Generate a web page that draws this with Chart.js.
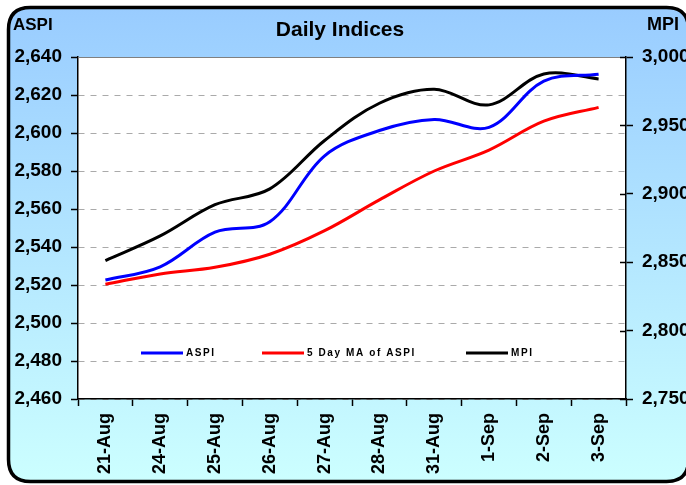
<!DOCTYPE html>
<html>
<head>
<meta charset="utf-8">
<script src="https://cdn.jsdelivr.net/npm/chart.js@4.4.1/dist/chart.umd.min.js"></script>
<style>
  html, body { margin: 0; padding: 0; background: #fff; }
  #wrap { width: 686px; height: 485px; }
</style>
</head>
<body>
<div id="wrap"><canvas id="c" width="686" height="485"></canvas></div>
<script>
// Daily Indices — ASPI / 5 day MA on the left axis, MPI on the right axis
const dates  = ['21-Aug', '24-Aug', '25-Aug', '26-Aug', '27-Aug', '28-Aug', '31-Aug', '1-Sep', '2-Sep', '3-Sep'];
const aspi   = [2522.6, 2529.6, 2547.8, 2553.3, 2588.0, 2601.3, 2607.1, 2603.0, 2627.3, 2630.9];
const aspiMa = [2520.4, 2525.8, 2529.3, 2536.2, 2548.6, 2564.8, 2580.0, 2591.0, 2606.2, 2613.5];
const mpi    = [2851.2, 2869.2, 2892.0, 2903.6, 2939.0, 2966.2, 2976.4, 2965.0, 2987.6, 2984.0];

const FONT = "'Liberation Sans', Arial, sans-serif";

function roundRect(ctx, x, y, w, h, r) {
    ctx.beginPath();
    ctx.moveTo(x + r, y);
    ctx.lineTo(x + w - r, y);
    ctx.quadraticCurveTo(x + w, y, x + w, y + r);
    ctx.lineTo(x + w, y + h - r);
    ctx.quadraticCurveTo(x + w, y + h, x + w - r, y + h);
    ctx.lineTo(x + r, y + h);
    ctx.quadraticCurveTo(x, y + h, x, y + h - r);
    ctx.lineTo(x, y + r);
    ctx.quadraticCurveTo(x, y, x + r, y);
    ctx.closePath();
}

// Panel background, rounded border and white plot area
const panel = {
    id: 'panel',
    beforeDraw(chart) {
        const { ctx, chartArea: a } = chart;
        ctx.save();
        ctx.fillStyle = '#fff';
        ctx.fillRect(0, 0, chart.width, chart.height);
        const g = ctx.createLinearGradient(0, 8, 0, 482);
        g.addColorStop(0, '#99ccff');
        g.addColorStop(1, '#ccffff');
        roundRect(ctx, 8.5, 7.5, 680, 474, 22);
        ctx.fillStyle = g;
        ctx.fill();
        ctx.lineWidth = 3.5;
        ctx.strokeStyle = '#000';
        ctx.stroke();
        ctx.fillStyle = '#fff';
        ctx.fillRect(a.left, a.top, a.right - a.left, a.bottom - a.top);
        ctx.restore();
    },
    beforeDatasetsDraw(chart) {
        const { ctx, chartArea: a } = chart;
        ctx.save();
        ctx.strokeStyle = '#808080';
        ctx.lineWidth = 1;
        ctx.beginPath();
        ctx.moveTo(a.left, a.top + 0.5);
        ctx.lineTo(a.right, a.top + 0.5);
        ctx.stroke();
        ctx.restore();
    }
};

// Titles, in-plot legend and the inner half of the right-axis ticks
const overlay = {
    id: 'overlay',
    afterDraw(chart) {
        const { ctx, chartArea: a } = chart;
        ctx.save();
        ctx.fillStyle = '#000';
        ctx.textBaseline = 'alphabetic';
        ctx.font = 'bold 21px ' + FONT;
        ctx.textAlign = 'center';
        ctx.fillText('Daily Indices', 340, 36);
        ctx.font = 'bold 17px ' + FONT;
        ctx.textAlign = 'left';
        ctx.fillText('ASPI', 13, 30);
        ctx.font = 'bold 18px ' + FONT;
        ctx.fillText('MPI', 647, 30);

        // inner tick marks on the right axis
        const y1 = chart.scales.y1;
        ctx.strokeStyle = '#000';
        ctx.lineWidth = 1.5;
        y1.ticks.forEach(t => {
            const py = Math.round(y1.getPixelForValue(t.value)) + 0.5;
            ctx.beginPath();
            ctx.moveTo(a.right - 6, py);
            ctx.lineTo(a.right, py);
            ctx.stroke();
        });

        // legend
        const offsets = [63, 184, 388];
        const ly = a.top + 296;
        ctx.font = 'bold 10px ' + FONT;
        ctx.letterSpacing = '1.6px';
        ctx.textBaseline = 'middle';
        chart.data.datasets.forEach((ds, i) => {
            const x = a.left + offsets[i];
            ctx.strokeStyle = ds.borderColor;
            ctx.lineWidth = 3;
            ctx.beginPath();
            ctx.moveTo(x, ly);
            ctx.lineTo(x + 42, ly);
            ctx.stroke();
            ctx.fillStyle = '#000';
            ctx.fillText(ds.label, x + 45, ly + 0.5);
        });
        ctx.restore();
    }
};

const xFont = { family: FONT, size: 18, weight: 'bold' };
const yFont = { family: FONT, size: 19, weight: 'bold' };

new Chart(document.getElementById('c'), {
    type: 'line',
    data: {
        labels: dates,
        datasets: [
            { label: 'ASPI',             data: aspi,   borderColor: '#0000ff', yAxisID: 'y' },
            { label: '5 Day MA of ASPI', data: aspiMa, borderColor: '#ff0000', yAxisID: 'y' },
            { label: 'MPI',              data: mpi,    borderColor: '#000000', yAxisID: 'y1' },
        ].map(d => Object.assign(d, { borderWidth: 3, pointRadius: 0, tension: 0.35, fill: false }))
    },
    options: {
        responsive: false,
        animation: false,
        layout: { padding: { top: 57, left: 0, right: 0, bottom: 0 } },
        plugins: { legend: { display: false }, tooltip: { enabled: false } },
        scales: {
            x: {
                offset: true,
                afterFit: s => { s.height = 86; },
                grid: { display: true, drawOnChartArea: false, offset: true, tickLength: 7, tickColor: '#000', tickWidth: 1.5 },
                border: { color: '#000', width: 1.5 },
                ticks: { font: xFont, color: '#000', minRotation: 90, maxRotation: 90, padding: 7, autoSkip: false }
            },
            y: {
                position: 'left',
                min: 2460, max: 2640,
                afterFit: s => { s.width = 78; },
                grid: { color: '#aaaaaa', tickLength: 7, tickColor: '#000', tickWidth: 1.5, tickBorderDash: [] },
                border: { color: '#000', width: 1.5, dash: [6, 6] },
                ticks: { stepSize: 20, font: yFont, color: '#000', padding: 9,
                         callback: v => v.toLocaleString('en-US') }
            },
            y1: {
                position: 'right',
                min: 2750, max: 3000,
                afterFit: s => { s.width = 60; },
                grid: { drawOnChartArea: false, tickLength: 7, tickColor: '#000', tickWidth: 1.5 },
                border: { color: '#000', width: 1.5 },
                ticks: { stepSize: 50, font: yFont, color: '#000', padding: 9,
                         callback: v => v.toLocaleString('en-US') }
            }
        }
    },
    plugins: [panel, overlay]
});
</script>
</body>
</html>
